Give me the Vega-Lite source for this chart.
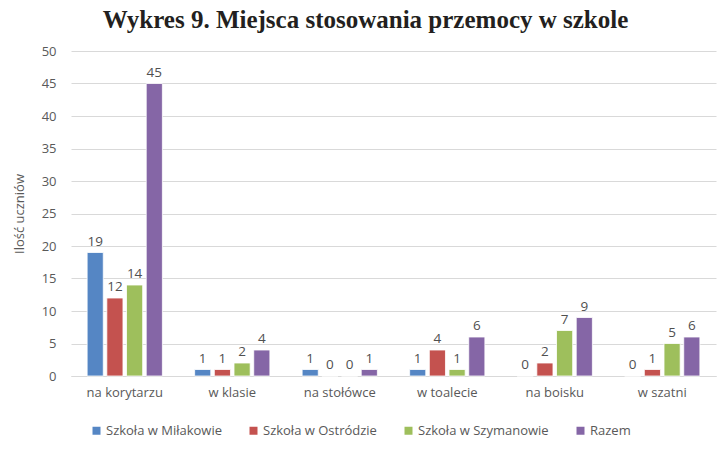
{
  "$schema": "https://vega.github.io/schema/vega-lite/v6.json",
  "autosize": "none",
  "width": 645,
  "height": 325,
  "padding": {"left": 71, "top": 51, "right": 12, "bottom": 75},
  "background": "white",
  "title": {
    "text": "Wykres 9. Miejsca stosowania przemocy w szkole",
    "font": "Liberation Serif",
    "fontSize": 25,
    "fontWeight": "bold",
    "color": "#231f20",
    "anchor": "middle",
    "dx": -28,
    "offset": 12
  },
  "config": {
    "view": {"stroke": null},
    "font": "Open Sans",
    "axis": {"labelFont": "Open Sans", "titleFont": "Open Sans", "labelColor": "#595959", "titleColor": "#595959"},
    "legend": {"labelFont": "Open Sans"}
  },
  "data": {
    "values": [
      {"miejsce": "na korytarzu", "szkola": "Szkoła w Miłakowie", "n": 19},
      {"miejsce": "na korytarzu", "szkola": "Szkoła w Ostródzie", "n": 12},
      {"miejsce": "na korytarzu", "szkola": "Szkoła w Szymanowie", "n": 14},
      {"miejsce": "na korytarzu", "szkola": "Razem", "n": 45},
      {"miejsce": "w klasie", "szkola": "Szkoła w Miłakowie", "n": 1},
      {"miejsce": "w klasie", "szkola": "Szkoła w Ostródzie", "n": 1},
      {"miejsce": "w klasie", "szkola": "Szkoła w Szymanowie", "n": 2},
      {"miejsce": "w klasie", "szkola": "Razem", "n": 4},
      {"miejsce": "na stołówce", "szkola": "Szkoła w Miłakowie", "n": 1},
      {"miejsce": "na stołówce", "szkola": "Szkoła w Ostródzie", "n": 0},
      {"miejsce": "na stołówce", "szkola": "Szkoła w Szymanowie", "n": 0},
      {"miejsce": "na stołówce", "szkola": "Razem", "n": 1},
      {"miejsce": "w toalecie", "szkola": "Szkoła w Miłakowie", "n": 1},
      {"miejsce": "w toalecie", "szkola": "Szkoła w Ostródzie", "n": 4},
      {"miejsce": "w toalecie", "szkola": "Szkoła w Szymanowie", "n": 1},
      {"miejsce": "w toalecie", "szkola": "Razem", "n": 6},
      {"miejsce": "na boisku", "szkola": "Szkoła w Miłakowie", "n": 0},
      {"miejsce": "na boisku", "szkola": "Szkoła w Ostródzie", "n": 2},
      {"miejsce": "na boisku", "szkola": "Szkoła w Szymanowie", "n": 7},
      {"miejsce": "na boisku", "szkola": "Razem", "n": 9},
      {"miejsce": "w szatni", "szkola": "Szkoła w Miłakowie", "n": 0},
      {"miejsce": "w szatni", "szkola": "Szkoła w Ostródzie", "n": 1},
      {"miejsce": "w szatni", "szkola": "Szkoła w Szymanowie", "n": 5},
      {"miejsce": "w szatni", "szkola": "Razem", "n": 6}
    ]
  },
  "encoding": {
    "x": {
      "field": "miejsce",
      "type": "nominal",
      "sort": ["na korytarzu", "w klasie", "na stołówce", "w toalecie", "na boisku", "w szatni"],
      "scale": {"paddingInner": 0.3, "paddingOuter": 0.15},
      "axis": {
        "title": null,
        "labelAngle": 0,
        "labelFontSize": 13,
        "labelPadding": 10,
        "ticks": false,
        "domainColor": "#d9d9d9",
        "domainWidth": 1
      }
    },
    "xOffset": {
      "field": "szkola",
      "type": "nominal",
      "sort": ["Szkoła w Miłakowie", "Szkoła w Ostródzie", "Szkoła w Szymanowie", "Razem"],
      "scale": {"paddingInner": 0.18, "paddingOuter": 0}
    },
    "y": {
      "field": "n",
      "type": "quantitative",
      "scale": {"domain": [0, 50]},
      "axis": {
        "title": "Ilość uczniów",
        "titleFontSize": 13,
        "titleFontWeight": "normal",
        "titlePadding": 15,
        "values": [0, 5, 10, 15, 20, 25, 30, 35, 40, 45, 50],
        "labelFontSize": 13,
        "labelPadding": 15,
        "ticks": false,
        "domain": false,
        "gridColor": "#d9d9d9",
        "gridWidth": 1
      }
    }
  },
  "layer": [
    {
      "mark": {"type": "bar", "stroke": "white", "strokeWidth": 0.8},
      "encoding": {
        "color": {
          "field": "szkola",
          "type": "nominal",
          "sort": ["Szkoła w Miłakowie", "Szkoła w Ostródzie", "Szkoła w Szymanowie", "Razem"],
          "scale": {
            "domain": ["Szkoła w Miłakowie", "Szkoła w Ostródzie", "Szkoła w Szymanowie", "Razem"],
            "range": ["#5586c4", "#c4524f", "#9ebf5c", "#8566a6"]
          },
          "legend": {
            "title": null,
            "orient": "none",
            "direction": "horizontal",
            "legendX": 19,
            "legendY": 373,
            "symbolType": "square",
            "symbolSize": 64,
            "symbolStrokeWidth": 0,
            "labelFontSize": 13,
            "labelColor": "#595959",
            "labelOffset": 3,
            "columnPadding": 25
          }
        }
      }
    },
    {
      "mark": {"type": "text", "baseline": "bottom", "dy": -4, "fontSize": 13.5, "color": "#505050"},
      "encoding": {
        "text": {"field": "n", "type": "quantitative"}
      }
    }
  ]
}
